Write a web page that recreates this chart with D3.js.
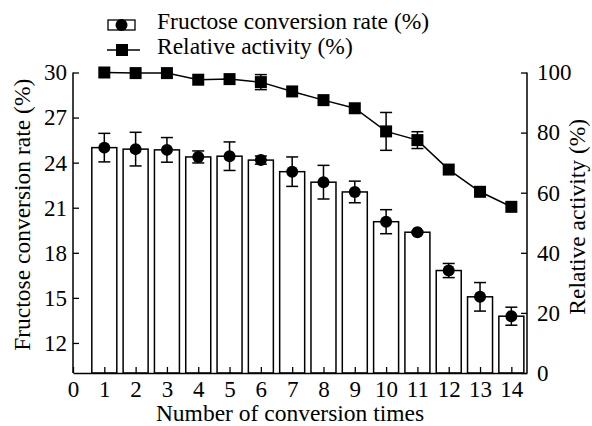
<!DOCTYPE html>
<html>
<head>
<meta charset="utf-8">
<script src="https://cdn.jsdelivr.net/npm/d3@7"></script>
<style>
  body { margin: 0; background: #fff; }
</style>
</head>
<body>
<div id="chart"></div>
<script>
(function () {
    // data
    var times = [1, 2, 3, 4, 5, 6, 7, 8, 9, 10, 11, 12, 13, 14];
    var conversion = [25.0, 24.9, 24.85, 24.38, 24.43, 24.17, 23.4, 22.7, 22.05, 20.07, 19.37, 16.82, 15.07, 13.78];
    var conversionErr = [0.95, 1.12, 0.82, 0.4, 0.95, 0.27, 0.98, 1.12, 0.72, 0.8, 0.08, 0.47, 0.95, 0.6];
    var activity = [100, 99.8, 99.8, 97.6, 97.8, 96.8, 93.7, 90.8, 88.1, 80.4, 77.5, 67.7, 60.3, 55.3];
    var activityErr = [0, 0, 0, 0, 0, 2.5, 0, 0, 0, 6.3, 2.8, 0, 0, 0];
    var xTicks = [0, 1, 2, 3, 4, 5, 6, 7, 8, 9, 10, 11, 12, 13, 14];
    var leftTicks = [12, 15, 18, 21, 24, 27, 30];
    var rightTicks = [0, 20, 40, 60, 80, 100];

    const width = 592;
    const height = 426;
    const left = 73, right = 527, top = 72.5, bottom = 373;
    const fontSize = 23;
    const titleSize = 23.5;
    const serif = '"Liberation Serif", "Times New Roman", serif';

    var svg = d3.select('#chart').append('svg')
        .attr('width', width)
        .attr('height', height);

    var x = d3.scaleLinear().domain([0, 14.5]).range([left, right]);
    var yL = d3.scaleLinear().domain([10, 30]).range([bottom, top]);
    var yR = d3.scaleLinear().domain([0, 100]).range([bottom, top]);
    var barW = 25;

    // bars
    svg.append('g').selectAll('rect').data(times)
        .enter().append('rect')
        .attr('x', function (d) { return x(d) - barW / 2; })
        .attr('y', function (d, i) { return yL(conversion[i]); })
        .attr('width', barW)
        .attr('height', function (d, i) { return bottom - yL(conversion[i]); })
        .attr('fill', '#fff')
        .attr('stroke', '#000')
        .attr('stroke-width', 1.5);

    // axes, ticks all point inward
    var gx = svg.append('g')
        .attr('transform', `translate(0,${bottom})`)
        .call(d3.axisBottom(x).tickValues(xTicks).tickSizeInner(-6).tickSizeOuter(0).tickPadding(8));

    var gl = svg.append('g')
        .attr('transform', `translate(${left},0)`)
        .call(d3.axisLeft(yL).tickValues(leftTicks).tickSizeInner(-6).tickSizeOuter(0).tickPadding(6));

    var gr = svg.append('g')
        .attr('transform', `translate(${right},0)`)
        .call(d3.axisRight(yR).tickValues(rightTicks).tickSizeInner(-6).tickSizeOuter(0).tickPadding(10));

    [gx, gl, gr].forEach(function (g) {
        g.attr('font-family', null).attr('font-size', null);
        g.selectAll('.domain').attr('stroke', '#000').attr('stroke-width', 1.5);
        g.selectAll('.tick line').attr('stroke', '#000').attr('stroke-width', 1.3);
        g.selectAll('.tick text')
            .style('font-family', serif)
            .style('font-size', fontSize + 'px')
            .attr('fill', '#000');
    });
    gl.select('.domain').attr('d', `M0,${bottom}V${top}`);
    gr.select('.domain').attr('d', `M0,${bottom}V${top}`);

    // conversion error bars + circles
    var cap = 6;
    var eg = svg.append('g').attr('stroke', '#000').attr('stroke-width', 1.5);
    times.forEach(function (t, i) {
        var cx = x(t);
        var hi = yL(conversion[i] + conversionErr[i]);
        var lo = yL(conversion[i] - conversionErr[i]);
        eg.append('line').attr('x1', cx).attr('x2', cx).attr('y1', hi).attr('y2', lo);
        eg.append('line').attr('x1', cx - cap).attr('x2', cx + cap).attr('y1', hi).attr('y2', hi);
        eg.append('line').attr('x1', cx - cap).attr('x2', cx + cap).attr('y1', lo).attr('y2', lo);
    });

    svg.append('g').selectAll('circle').data(times)
        .enter().append('circle')
        .attr('cx', function (d) { return x(d); })
        .attr('cy', function (d, i) { return yL(conversion[i]); })
        .attr('r', 6)
        .attr('fill', '#000');

    // activity line
    var line = d3.line()
        .x(function (d) { return x(d); })
        .y(function (d, i) { return yR(activity[i]); });

    svg.append('path')
        .datum(times)
        .attr('d', line)
        .attr('fill', 'none')
        .attr('stroke', '#000')
        .attr('stroke-width', 1.5);

    var ag = svg.append('g').attr('stroke', '#000').attr('stroke-width', 1.5);
    times.forEach(function (t, i) {
        if (activityErr[i] <= 0) return;
        var cx = x(t);
        var hi = yR(activity[i] + activityErr[i]);
        var lo = yR(activity[i] - activityErr[i]);
        ag.append('line').attr('x1', cx).attr('x2', cx).attr('y1', hi).attr('y2', lo);
        ag.append('line').attr('x1', cx - cap).attr('x2', cx + cap).attr('y1', hi).attr('y2', hi);
        ag.append('line').attr('x1', cx - cap).attr('x2', cx + cap).attr('y1', lo).attr('y2', lo);
    });

    var sq = 12;
    svg.append('g').selectAll('rect').data(times)
        .enter().append('rect')
        .attr('x', function (d) { return x(d) - sq / 2; })
        .attr('y', function (d, i) { return yR(activity[i]) - sq / 2; })
        .attr('width', sq)
        .attr('height', sq)
        .attr('fill', '#000');

    function label(sel) {
        return sel.style('font-family', serif).style('font-size', titleSize + 'px').attr('fill', '#000');
    }

    // axis titles
    svg.append('text')
        .attr('x', 290)
        .attr('y', 421)
        .attr('text-anchor', 'middle')
        .call(label)
        .text('Number of conversion times');

    svg.append('text')
        .attr('transform', `translate(30,${(top + bottom) / 2 - 8}) rotate(-90)`)
        .attr('text-anchor', 'middle')
        .call(label)
        .text('Fructose conversion rate (%)');

    svg.append('text')
        .attr('transform', `translate(585,${(top + bottom) / 2 - 6}) rotate(-90)`)
        .attr('text-anchor', 'middle')
        .call(label)
        .text('Relative activity (%)');

    // legend
    var legend = svg.append('g');
    legend.append('rect')
        .attr('x', 108).attr('y', 20).attr('width', 27).attr('height', 10)
        .attr('fill', '#fff').attr('stroke', '#000').attr('stroke-width', 1.3);
    legend.append('circle')
        .attr('cx', 121.5).attr('cy', 25).attr('r', 6).attr('fill', '#000');
    legend.append('text')
        .attr('x', 157).attr('y', 29)
        .call(label)
        .text('Fructose conversion rate (%)');

    legend.append('line')
        .attr('x1', 107).attr('x2', 140).attr('y1', 50).attr('y2', 50)
        .attr('stroke', '#000').attr('stroke-width', 1.5);
    legend.append('rect')
        .attr('x', 122 - sq / 2).attr('y', 50 - sq / 2).attr('width', sq).attr('height', sq)
        .attr('fill', '#000');
    legend.append('text')
        .attr('x', 157).attr('y', 54)
        .call(label)
        .text('Relative activity (%)');
})();
</script>
</body>
</html>
